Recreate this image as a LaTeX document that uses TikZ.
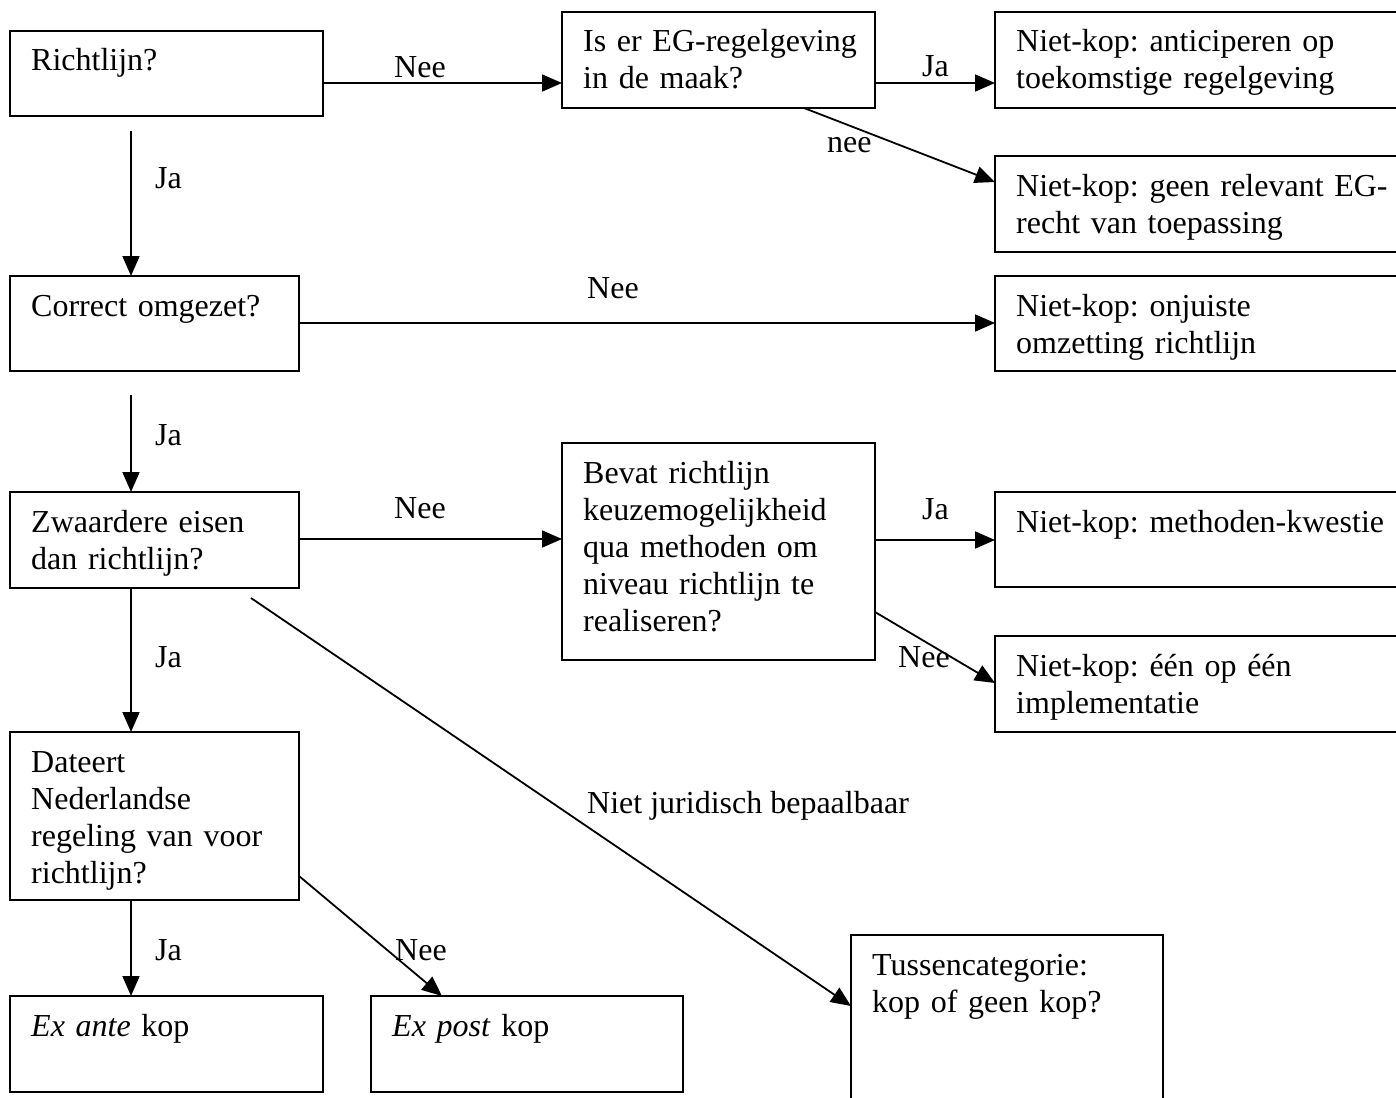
\documentclass[tikz,border=0pt]{standalone}
\usepackage{fontspec}
\setmainfont{Liberation Serif}
\usetikzlibrary{arrows.meta}
\frenchspacing
\tikzset{
  box/.style={draw, line width=2.4pt, anchor=north west, inner sep=0pt, outer sep=0pt},
  txt/.style={anchor=base west, inner sep=0pt, align=left, text width=420pt,
              font=\fontsize{32}{37}\selectfont\frenchspacing},
  lbl/.style={anchor=base west, inner sep=0pt, font=\fontsize{32}{37}\selectfont},
  arr/.style={line width=1.8pt, -{Triangle[length=20pt,width=17pt]}},
}
\newcommand\mkbox[6]{%
  \node[box, minimum width={#4-#2}, minimum height={#5-#3}] (#1) at (#2,#3) {};
  \node[txt] (#1t) at (#2+21,#3+40) {#6};
}
\begin{document}
\begin{tikzpicture}[x=1pt,y=-1pt]
\useasboundingbox (0,0) rectangle (1396,1097);
\fill[white] (0,0) rectangle (1396,1097);
\clip (0,0) rectangle (1396,1097);

\mkbox{b1}{10}{31}{323}{116}{Richtlijn?}
\mkbox{b2}{562}{12}{875}{108}{Is er EG-regelgeving\\in de maak?}
\mkbox{b3}{995}{12}{1410}{108}{Niet-kop: anticiperen op\\toekomstige regelgeving}
\mkbox{b4}{995}{156}{1410}{252}{Niet-kop: geen relevant EG-\\recht van toepassing}
\mkbox{b5}{10}{276}{299}{371}{Correct omgezet?}
\mkbox{b6}{995}{276}{1410}{371}{Niet-kop: onjuiste\\omzetting richtlijn}
\mkbox{b7}{10}{492}{299}{588}{Zwaardere eisen\\dan richtlijn?}
\mkbox{b8}{562}{443}{875}{660}{Bevat richtlijn\\keuzemogelijkheid\\qua methoden om\\niveau richtlijn te\\realiseren?}
\mkbox{b9}{995}{492}{1410}{587}{Niet-kop: methoden-kwestie}
\mkbox{b10}{995}{636}{1410}{732}{Niet-kop: één op één\\implementatie}
\mkbox{b11}{10}{732}{299}{900}{Dateert\\Nederlandse\\regeling van voor\\richtlijn?}
\mkbox{b12}{10}{996}{323}{1092}{\textit{Ex ante} kop}
\mkbox{b13}{371}{996}{683}{1092}{\textit{Ex post} kop}
\mkbox{b14}{851}{935}{1163}{1130}{Tussencategorie:\\kop of geen kop?}

% free ends
\coordinate (s4) at (131,131);
\coordinate (s6) at (131,395);
\coordinate (s11) at (251,598);

% connectors
\draw[arr] (b1.east |- 0,83) -- (b2.west |- 0,83);
\draw[arr] (b2.east |- 0,83) -- (b3.west |- 0,83);
\draw[arr] (b2.south -| 804,0) -- (b4.west |- 0,182);
\draw[arr] (s4) -- (b5.north -| s4);
\draw[arr] (b5.east |- 0,323) -- (b6.west |- 0,323);
\draw[arr] (s6) -- (b7.north -| s6);
\draw[arr] (b7.east |- 0,539) -- (b8.west |- 0,539);
\draw[arr] (b8.east |- 0,540) -- (b9.west |- 0,540);
\draw[arr] (b8.east |- 0,612) -- (b10.west |- 0,683);
\draw[arr] (b7.south -| 131,0) -- (b11.north -| 131,0);
\draw[arr] (s11) -- (b14.west |- 0,1006);
\draw[arr] (b11.south -| 131,0) -- (b12.north -| 131,0);
\draw[arr] (b11.east |- 0,876) -- (b13.north -| 442,0);

% connector labels
\node[lbl] (l1) at (394,78) {Nee};
\node[lbl] (l2) at (922,77) {Ja};
\node[lbl] (l3) at (827,152) {nee};
\node[lbl] (l4) at (155,188) {Ja};
\node[lbl] (l5) at (587,298) {Nee};
\node[lbl] (l6) at (155,445) {Ja};
\node[lbl] (l7) at (394,518) {Nee};
\node[lbl] (l8) at (922,519) {Ja};
\node[lbl] (l9) at (898,667) {Nee};
\node[lbl] (l10) at (155,667) {Ja};
\node[lbl] (l11) at (587,813) {Niet juridisch bepaalbaar};
\node[lbl] (l12) at (155,960) {Ja};
\node[lbl] (l13) at (395,960) {Nee};
\end{tikzpicture}
\end{document}
